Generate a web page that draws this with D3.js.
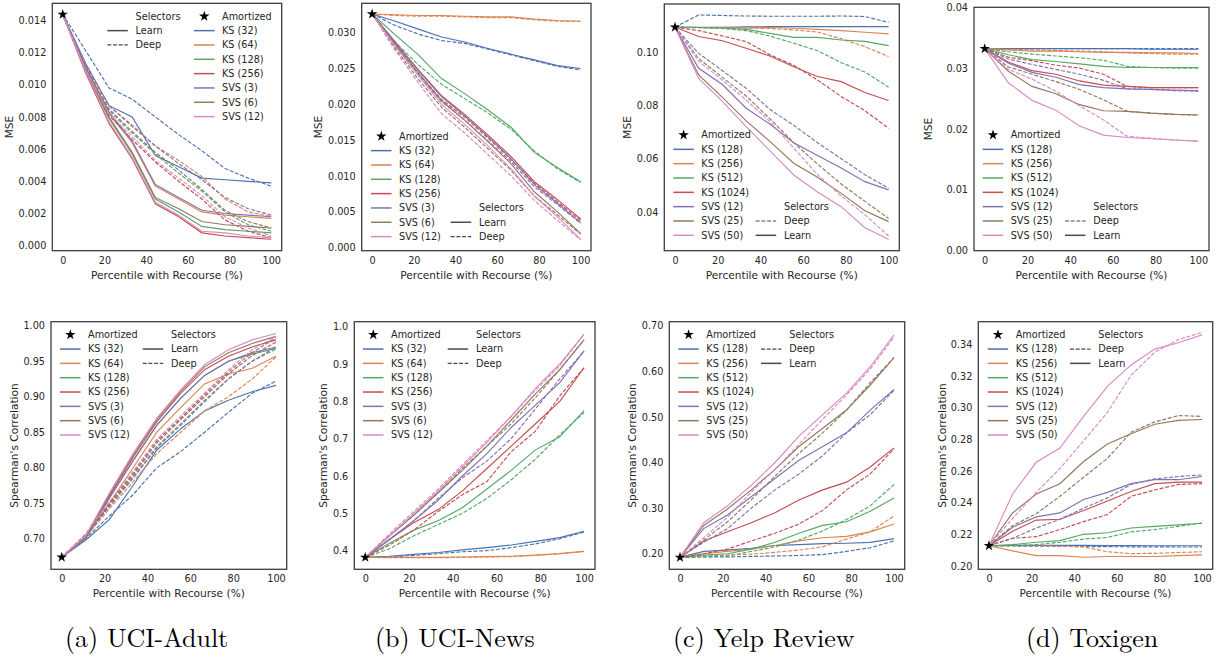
<!DOCTYPE html>
<html>
<head>
<meta charset="utf-8">
<script src="https://cdn.jsdelivr.net/npm/d3@7"></script>
<style>
  body { margin: 0; background: #fff; }
  svg { display: block; font-family: 'DejaVu Sans', sans-serif; }
  svg text.caption { font-family: 'Latin Modern Roman', 'Liberation Serif', serif; }
</style>
</head>
<body>
<svg width="1225" height="661"></svg>
<script>
// percentile of instances routed to the slow estimator
const xPct = [0, 11.1, 22.2, 33.3, 44.4, 55.6, 66.7, 77.8, 88.9, 100]

const uciMethods = ['KS (32)', 'KS (64)', 'KS (128)', 'KS (256)', 'SVS (3)', 'SVS (6)', 'SVS (12)']
const textMethods = ['KS (128)', 'KS (256)', 'KS (512)', 'KS (1024)', 'SVS (12)', 'SVS (25)', 'SVS (50)']

// ---- MSE ----
const adultMseLearn = [
    [.01437, .0113, .0087, .0080, .0056, .0049, .0042, .0041, .0040, .0039],
    [.01437, .0110, .0082, .0064, .0037, .0029, .0021, .0019, .0018, .0017],
    [.01437, .0108, .0079, .0057, .0029, .0021, .0012, .0010, .0009, .0008],
    [.01437, .0107, .0076, .0054, .0026, .0018, .0008, .0006, .0005, .0004],
    [.01437, .0111, .0083, .0065, .0038, .0030, .0022, .0020, .0019, .0018],
    [.01437, .0109, .0080, .0058, .0030, .0023, .0015, .0013, .0012, .0011],
    [.01437, .0108, .0077, .0055, .0027, .0019, .0009, .0008, .0006, .0005]
]
const adultMseDeep = [
    [.01437, .0121, .0098, .0091, .0080, .0069, .0059, .0048, .0042, .0037],
    [.01437, .0112, .0087, .0075, .0062, .0053, .0043, .0029, .0021, .0018],
    [.01437, .0110, .0084, .0070, .0057, .0045, .0034, .0021, .0013, .0009],
    [.01437, .0109, .0081, .0066, .0052, .0040, .0029, .0016, .0009, .0005],
    [.01437, .0112, .0087, .0074, .0062, .0051, .0041, .0030, .0023, .0019],
    [.01437, .0110, .0085, .0071, .0058, .0047, .0035, .0022, .0015, .0011],
    [.01437, .0109, .0082, .0068, .0053, .0042, .0031, .0018, .0011, .0006]
]
const newsMseLearn = [
    [.0326, .0316, .0305, .0294, .0287, .0278, .0270, .0262, .0254, .0250],
    [.0326, .0325, .0324, .0324, .0323, .0322, .0322, .0319, .0317, .0316],
    [.0326, .0297, .0269, .0236, .0215, .0192, .0168, .0133, .0112, .0092],
    [.0326, .0287, .0248, .0212, .0186, .0157, .0127, .0092, .0067, .0040],
    [.0326, .0286, .0247, .0211, .0184, .0155, .0124, .0088, .0062, .0035],
    [.0326, .0284, .0244, .0205, .0178, .0148, .0117, .0078, .0050, .0020],
    [.0326, .0281, .0240, .0200, .0172, .0142, .0110, .0072, .0043, .0012]
]
const newsMseDeep = [
    [.0326, .0310, .0298, .0289, .0285, .0277, .0269, .0261, .0253, .0248],
    [.0326, .0324, .0323, .0323, .0322, .0321, .0321, .0318, .0316, .0316],
    [.0326, .0287, .0255, .0228, .0208, .0188, .0165, .0135, .0110, .0091],
    [.0326, .0283, .0243, .0207, .0182, .0153, .0123, .0090, .0064, .0038],
    [.0326, .0282, .0241, .0204, .0178, .0149, .0120, .0085, .0060, .0034],
    [.0326, .0278, .0235, .0196, .0168, .0138, .0108, .0072, .0046, .0019],
    [.0326, .0275, .0230, .0187, .0160, .0130, .0100, .0066, .0038, .0011]
]
const yelpMseLearn = [
    [.1093, .1093, .1093, .1094, .1095, .1095, .1095, .1095, .1095, .1095],
    [.1093, .1092, .1091, .1090, .1092, .1089, .1085, .1080, .1074, .1068],
    [.1093, .1092, .1090, .1085, .1070, .1055, .1055, .1045, .1040, .1024],
    [.1093, .1058, .1042, .1014, .0985, .0945, .0908, .0889, .0848, .0818],
    [.1093, .0939, .0878, .0789, .0730, .0660, .0612, .0565, .0514, .0483],
    [.1093, .0914, .0830, .0742, .0665, .0583, .0530, .0470, .0405, .0364],
    [.1093, .0901, .0815, .0720, .0630, .0539, .0475, .0420, .0341, .0298]
]
const yelpMseDeep = [
    [.1093, .1139, .1137, .1135, .1134, .1134, .1134, .1135, .1133, .1111],
    [.1093, .1092, .1091, .1090, .1088, .1083, .1075, .1050, .1020, .0983],
    [.1093, .1091, .1088, .1080, .1060, .1033, .1005, .0960, .0925, .0868],
    [.1093, .1080, .1060, .1039, .0990, .0950, .0895, .0833, .0780, .0714],
    [.1093, .0995, .0930, .0864, .0785, .0725, .0660, .0600, .0540, .0489],
    [.1093, .0975, .0905, .0835, .0750, .0660, .0580, .0505, .0440, .0376],
    [.1093, .0965, .0895, .0820, .0740, .0640, .0540, .0460, .0390, .0310]
]
const toxMseLearn = [
    [.0332, .0332, .0332, .0332, .0332, .0332, .0332, .0331, .0331, .0331],
    [.0332, .0330, .0328, .0328, .0327, .0326, .0326, .0325, .0325, .0324],
    [.0332, .0322, .0314, .0311, .0307, .0303, .0301, .0301, .0301, .0301],
    [.0332, .0310, .0296, .0290, .0279, .0272, .0270, .0268, .0268, .0268],
    [.0332, .0308, .0293, .0285, .0273, .0268, .0266, .0265, .0264, .0263],
    [.0332, .0295, .0270, .0258, .0240, .0230, .0229, .0226, .0224, .0223],
    [.0332, .0276, .0247, .0231, .0205, .0190, .0186, .0184, .0182, .0180]
]
const toxMseDeep = [
    [.0332, .0332, .0332, .0332, .0332, .0332, .0332, .0332, .0332, .0332],
    [.0332, .0331, .0330, .0329, .0328, .0327, .0325, .0324, .0323, .0323],
    [.0332, .0327, .0323, .0320, .0317, .0313, .0303, .0301, .0300, .0300],
    [.0332, .0318, .0312, .0305, .0300, .0290, .0270, .0268, .0268, .0268],
    [.0332, .0315, .0306, .0298, .0290, .0280, .0266, .0265, .0263, .0262],
    [.0332, .0302, .0290, .0278, .0265, .0248, .0229, .0226, .0224, .0223],
    [.0332, .0298, .0282, .0262, .0238, .0215, .0188, .0185, .0182, .0180]
]

// ---- Spearman's correlation ----
const adultCorrLearn = [
    [.674, .698, .727, .775, .825, .855, .880, .895, .907, .916],
    [.674, .700, .750, .800, .850, .885, .918, .932, .940, .957],
    [.674, .701, .757, .810, .860, .898, .930, .950, .960, .968],
    [.674, .702, .760, .815, .865, .905, .938, .957, .970, .980],
    [.674, .701, .757, .810, .860, .898, .930, .950, .962, .970],
    [.674, .703, .762, .818, .868, .908, .942, .962, .975, .985],
    [.674, .704, .764, .820, .870, .910, .945, .966, .980, .989]
]
const adultCorrDeep = [
    [.674, .700, .732, .762, .800, .823, .850, .878, .905, .922],
    [.674, .702, .742, .780, .820, .850, .880, .900, .925, .956],
    [.674, .704, .746, .787, .830, .862, .895, .925, .950, .967],
    [.674, .705, .748, .790, .835, .868, .900, .932, .958, .977],
    [.674, .704, .745, .785, .828, .860, .893, .925, .950, .970],
    [.674, .706, .750, .792, .838, .870, .903, .935, .962, .983],
    [.674, .707, .752, .795, .840, .873, .905, .938, .966, .985]
]
const newsCorrLearn = [
    [.382, .385, .390, .395, .402, .408, .415, .425, .435, .452],
    [.382, .382, .382, .382, .383, .384, .385, .388, .392, .398],
    [.382, .420, .455, .480, .515, .565, .615, .670, .705, .775],
    [.382, .430, .475, .510, .560, .620, .680, .740, .800, .890],
    [.382, .430, .480, .535, .600, .660, .730, .790, .850, .935],
    [.382, .440, .495, .555, .615, .680, .750, .820, .885, .965],
    [.382, .440, .500, .560, .625, .690, .760, .835, .900, .980]
]
const newsCorrDeep = [
    [.382, .383, .387, .392, .397, .400, .408, .418, .432, .450],
    [.382, .381, .381, .381, .382, .383, .384, .387, .392, .398],
    [.382, .405, .440, .470, .500, .540, .590, .645, .710, .770],
    [.382, .415, .455, .505, .550, .585, .665, .720, .815, .890],
    [.382, .430, .480, .540, .595, .640, .700, .780, .860, .935],
    [.382, .440, .495, .555, .620, .680, .740, .810, .885, .965],
    [.382, .445, .505, .565, .630, .695, .760, .830, .895, .980]
]
const yelpCorrLearn = [
    [.192, .205, .208, .212, .218, .220, .222, .223, .225, .233],
    [.192, .200, .205, .210, .218, .228, .235, .238, .248, .265],
    [.192, .197, .200, .210, .225, .245, .262, .270, .293, .322],
    [.192, .228, .248, .268, .290, .318, .340, .357, .390, .432],
    [.192, .255, .285, .325, .365, .405, .435, .465, .515, .560],
    [.192, .262, .298, .340, .385, .435, .475, .515, .570, .630],
    [.192, .268, .305, .350, .400, .458, .505, .552, .610, .680]
]
const yelpCorrDeep = [
    [.192, .193, .193, .194, .195, .196, .198, .205, .213, .228],
    [.192, .195, .197, .199, .203, .208, .215, .232, .248, .283],
    [.192, .193, .195, .205, .215, .230, .250, .275, .305, .352],
    [.192, .200, .210, .228, .245, .265, .295, .340, .375, .430],
    [.192, .225, .255, .300, .340, .375, .415, .465, .505, .558],
    [.192, .230, .270, .318, .370, .420, .465, .515, .575, .630],
    [.192, .235, .280, .335, .385, .440, .495, .548, .605, .675]
]
const toxCorrLearn = [
    [.2128, .2130, .2130, .2130, .2130, .2129, .2129, .2128, .2128, .2128],
    [.2128, .2095, .2065, .2065, .2055, .2060, .2060, .2060, .2065, .2070],
    [.2128, .2135, .2150, .2160, .2200, .2210, .2240, .2250, .2260, .2270],
    [.2128, .2220, .2290, .2295, .2350, .2410, .2470, .2520, .2530, .2530],
    [.2128, .2245, .2310, .2335, .2420, .2465, .2520, .2545, .2545, .2565],
    [.2128, .2335, .2455, .2520, .2660, .2770, .2835, .2895, .2920, .2925],
    [.2128, .2455, .2655, .2745, .2945, .3135, .3270, .3370, .3410, .3460]
]
const toxCorrDeep = [
    [.2128, .2126, .2125, .2124, .2123, .2122, .2121, .2121, .2120, .2120],
    [.2128, .2128, .2128, .2125, .2120, .2090, .2078, .2080, .2085, .2090],
    [.2128, .2130, .2135, .2150, .2170, .2180, .2215, .2230, .2250, .2272],
    [.2128, .2175, .2185, .2230, .2280, .2325, .2440, .2480, .2515, .2520],
    [.2128, .2175, .2240, .2295, .2365, .2430, .2515, .2550, .2565, .2575],
    [.2128, .2255, .2330, .2440, .2560, .2680, .2845, .2910, .2950, .2945],
    [.2128, .2300, .2465, .2615, .2790, .2970, .3205, .3350, .3430, .3475]
]

const xTicks = [0, 20, 40, 60, 80, 100]
const adultMseTicks = [0, .002, .004, .006, .008, .010, .012, .014]
const newsMseTicks = [0, .005, .010, .015, .020, .025, .030]
const yelpMseTicks = [.04, .06, .08, .10]
const toxMseTicks = [0, .01, .02, .03, .04]
const adultCorrTicks = [.70, .75, .80, .85, .90, .95, 1.00]
const newsCorrTicks = [.4, .5, .6, .7, .8, .9, 1.0]
const yelpCorrTicks = [.20, .30, .40, .50, .60, .70]
const toxCorrTicks = [.20, .22, .24, .26, .28, .30, .32, .34]

const captions = ['(a) UCI-Adult', '(b) UCI-News', '(c) Yelp Review', '(d) Toxigen']

const palette = ['#4c72b0', '#dd8452', '#55a868', '#c44e52', '#8172b3', '#937860', '#da8bc3']

const svg = d3.select('svg')

const topFrame = [3.3, 250.7], botFrame = [321.7, 569.3]

const panels = [
    { frame: [52.3, 281.7, ...topFrame], yDomain: [-0.00031, 0.01506], ticks: adultMseTicks, fmt: '.3f',
      label: 'MSE', labelX: 9, methods: uciMethods, learn: adultMseLearn, deep: adultMseDeep,
      legend: { mx: 194, my: 16.3, sx: 107.3, sRow: 0, order: ['Learn', 'Deep'] } },
    { frame: [361.7, 591, ...topFrame], yDomain: [-0.00042, 0.0341], ticks: newsMseTicks, fmt: '.3f',
      label: 'MSE', labelX: 317.7, methods: uciMethods, learn: newsMseLearn, deep: newsMseDeep,
      legend: { mx: 371, my: 136.3, sx: 450.7, sRow: 5, order: ['Learn', 'Deep'] } },
    { frame: [664.3, 899.3, 4, 250.7], yDomain: [0.0255, 0.118], ticks: yelpMseTicks, fmt: '.2f',
      label: 'MSE', labelX: 627.3, methods: textMethods, learn: yelpMseLearn, deep: yelpMseDeep,
      legend: { mx: 673.3, my: 135, sx: 755.7, sRow: 5, order: ['Deep', 'Learn'] } },
    { frame: [974, 1209, 7.3, 250.7], yDomain: [0, 0.04], ticks: toxMseTicks, fmt: '.2f',
      label: 'MSE', labelX: 928.3, methods: textMethods, learn: toxMseLearn, deep: toxMseDeep,
      legend: { mx: 982.7, my: 135, sx: 1065, sRow: 5, order: ['Deep', 'Learn'] } },
    { frame: [51, 286.7, ...botFrame], yDomain: [0.657, 1.0056], ticks: adultCorrTicks, fmt: '.2f',
      label: "Spearman's Correlation", labelX: 14, methods: uciMethods, learn: adultCorrLearn, deep: adultCorrDeep,
      legend: { mx: 60, my: 334.7, sx: 142.7, sRow: 0, order: ['Learn', 'Deep'] } },
    { frame: [354.3, 595, ...botFrame], yDomain: [0.35, 1.0134], ticks: newsCorrTicks, fmt: '.1f',
      label: "Spearman's Correlation", labelX: 323.3, methods: uciMethods, learn: newsCorrLearn, deep: newsCorrDeep,
      legend: { mx: 363, my: 334.7, sx: 447.7, sRow: 0, order: ['Learn', 'Deep'] } },
    { frame: [669.3, 904.7, ...botFrame], yDomain: [0.1658, 0.7088], ticks: yelpCorrTicks, fmt: '.2f',
      label: "Spearman's Correlation", labelX: 632.3, methods: textMethods, learn: yelpCorrLearn, deep: yelpCorrDeep,
      legend: { mx: 678.3, my: 334.7, sx: 761, sRow: 0, order: ['Deep', 'Learn'] } },
    { frame: [978.3, 1212.7, ...botFrame], yDomain: [0.1979, 0.3543], ticks: toxCorrTicks, fmt: '.2f',
      label: "Spearman's Correlation", labelX: 941.7, methods: textMethods, learn: toxCorrLearn, deep: toxCorrDeep,
      legend: { mx: 987.7, my: 334.7, sx: 1070, sRow: 0, order: ['Deep', 'Learn'] } }
]

const textColor = '#262626'
const rowStep = 14.33
const star = d3.symbol().type(d3.symbolStar).size(34)

const drawPanel = (p, i) => {
    const [x0, x1, y0, y1] = p.frame
    const top = i < 4
    const g = svg.append('g')

    const x = d3.scaleLinear().domain([-5, 105]).range([x0, x1])
    const y = d3.scaleLinear().domain(p.yDomain).range([y1, y0])

    const clipId = 'clip' + i
    g.append('clipPath').attr('id', clipId)
        .append('rect')
        .attr('x', x0).attr('y', y0)
        .attr('width', x1 - x0).attr('height', y1 - y0)

    // axes, no tick marks (seaborn white style)
    const yAxis = g.append('g')
        .attr('transform', `translate(${x0},0)`)
        .call(d3.axisLeft(y).tickValues(p.ticks).tickFormat(d3.format(p.fmt)).tickSize(0).tickPadding(6))
    const xAxis = g.append('g')
        .attr('transform', `translate(0,${y1})`)
        .call(d3.axisBottom(x).tickValues(xTicks).tickSize(0).tickPadding(top ? 6.5 : 5.5))
    ;[xAxis, yAxis].forEach(a => {
        a.select('.domain').remove()
        a.selectAll('text')
            .attr('fill', textColor)
            .style('font-size', '9.7px')
            .style('font-family', "'DejaVu Sans', sans-serif")
    })

    g.append('text')
        .attr('x', (x0 + x1) / 2)
        .attr('y', top ? 279 : 597)
        .attr('text-anchor', 'middle')
        .attr('fill', textColor)
        .style('font-size', '10.6px')
        .text('Percentile with Recourse (%)')

    g.append('text')
        .attr('transform', `translate(${p.labelX + 4},${(y0 + y1) / 2}) rotate(-90)`)
        .attr('text-anchor', 'middle')
        .attr('fill', textColor)
        .style('font-size', '10.6px')
        .text(p.label)

    const line = d3.line()
        .x((d, j) => x(xPct[j]))
        .y(d => y(d))

    const plot = g.append('g').attr('clip-path', `url(#${clipId})`)
    p.methods.forEach((m, k) => {
        plot.append('path')
            .datum(p.deep[k])
            .attr('d', line)
            .attr('fill', 'none')
            .attr('stroke', palette[k])
            .attr('stroke-width', 1.15)
            .attr('stroke-dasharray', '4,1.7')
        plot.append('path')
            .datum(p.learn[k])
            .attr('d', line)
            .attr('fill', 'none')
            .attr('stroke', palette[k])
            .attr('stroke-width', 1.15)
    })

    // amortized estimate at 0% recourse
    g.append('path')
        .attr('d', star)
        .attr('transform', `translate(${x(0)},${y(p.learn[0][0])})`)
        .attr('fill', '#000')

    g.append('rect')
        .attr('x', x0).attr('y', y0)
        .attr('width', x1 - x0).attr('height', y1 - y0)
        .attr('fill', 'none')
        .attr('stroke', '#3d3d3d')
        .attr('stroke-width', 1.3)

    // legends
    const L = p.legend
    const lg = g.append('g').style('font-size', '9.7px').attr('fill', textColor)
    const rowY = r => L.my + r * rowStep

    lg.append('path')
        .attr('d', star)
        .attr('transform', `translate(${L.mx + 10.3},${rowY(0)})`)
        .attr('fill', '#000')
    lg.append('text').attr('x', L.mx + 28).attr('y', rowY(0)).attr('dy', '0.35em').text('Amortized')

    p.methods.forEach((m, k) => {
        lg.append('line')
            .attr('x1', L.mx).attr('x2', L.mx + 20.5)
            .attr('y1', rowY(k + 1)).attr('y2', rowY(k + 1))
            .attr('stroke', palette[k])
            .attr('stroke-width', 1.5)
        lg.append('text').attr('x', L.mx + 28).attr('y', rowY(k + 1)).attr('dy', '0.35em').text(m)
    })

    lg.append('text').attr('x', L.sx + 28.3).attr('y', rowY(L.sRow)).attr('dy', '0.35em').text('Selectors')
    L.order.forEach((s, k) => {
        const yy = rowY(L.sRow + k + 1)
        lg.append('line')
            .attr('x1', L.sx).attr('x2', L.sx + 20.5)
            .attr('y1', yy).attr('y2', yy)
            .attr('stroke', '#4a4a4a')
            .attr('stroke-width', s === 'Learn' ? 1.5 : 1.2)
            .attr('stroke-dasharray', s === 'Deep' ? '4,1.7' : null)
        lg.append('text').attr('x', L.sx + 28.3).attr('y', yy).attr('dy', '0.35em').text(s)
    })
}

panels.forEach(drawPanel)

// sub-figure captions (LaTeX-style serif)
const capX = [65, 375, 673, 1026]
svg.selectAll('text.caption')
    .data(captions)
    .enter()
    .append('text')
    .attr('class', 'caption')
    .attr('x', (d, i) => capX[i])
    .attr('y', 647)
    .attr('font-size', 26)
    .attr('fill', '#000')
    .text(d => d)
</script>
</body>
</html>
